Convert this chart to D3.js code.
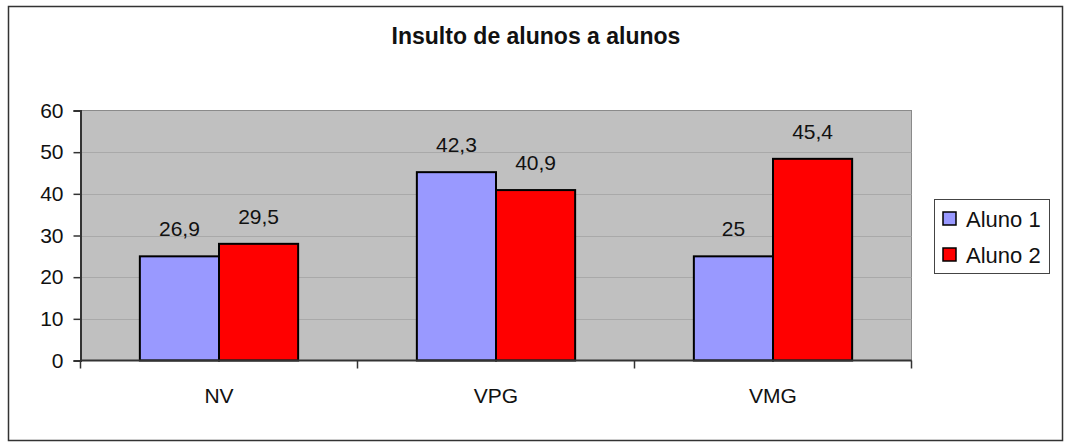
<!DOCTYPE html>
<html>
<head>
<meta charset="utf-8">
<script src="https://cdn.jsdelivr.net/npm/d3@7"></script>
<style>
  body { margin: 0; background: #fff; }
  text { font-family: "Liberation Sans", Arial, sans-serif; fill: #111; }
</style>
</head>
<body>
<div id="visualize"></div>
<script>
// Chart data
var categories = ["NV", "VPG", "VMG"];
var seriesNames = ["Aluno 1", "Aluno 2"];
var aluno1 = [25, 45.2, 25];
var aluno2 = [28, 40.9, 48.4];
var aluno1Labels = ["26,9", "42,3", "25"];
var aluno2Labels = ["29,5", "40,9", "45,4"];
var yTicks = [0, 10, 20, 30, 40, 50, 60];
var colors = ["#9999ff", "#ff0000"];
var title = "Insulto de alunos a alunos";

// Draw grouped bar chart
function drawBarChart() {

  var width = 1079;
  var height = 443;

  var svg = d3.select("#visualize").append("svg")
      .attr("width", width)
      .attr("height", height);

  // outer frame
  svg.append("rect")
      .attr("x", 8.5)
      .attr("y", 6.5)
      .attr("width", 1054)
      .attr("height", 434)
      .style("fill", "#fff")
      .style("stroke", "#333")
      .style("stroke-width", 1.5);

  svg.append("text")
      .attr("x", 536)
      .attr("y", 44)
      .style("text-anchor", "middle")
      .style("font-weight", "bold")
      .style("font-size", "23px")
      .text(title);

  var left = 80.5, right = 911.5, top = 110.5, bottom = 360.5;

  var x = d3.scaleBand()
      .domain(categories)
      .range([left, right]);

  var y = d3.scaleLinear()
      .domain([0, 60])
      .range([bottom, top]);

  // plot area
  svg.append("rect")
      .attr("x", left)
      .attr("y", top)
      .attr("width", right - left)
      .attr("height", bottom - top)
      .style("fill", "#c0c0c0")
      .style("stroke", "#8a8a8a")
      .style("stroke-width", 1);

  svg.append("g")
      .selectAll("line")
      .data(yTicks.slice(1, -1))
    .enter().append("line")
      .attr("x1", left)
      .attr("x2", right)
      .attr("y1", function(d) { return Math.round(y(d)) + 0.5; })
      .attr("y2", function(d) { return Math.round(y(d)) + 0.5; })
      .style("stroke", "#a9a9a9")
      .style("stroke-width", 1);

  // bars
  var x1 = d3.scaleBand()
      .domain(seriesNames)
      .range([0, x.bandwidth()])
      .paddingOuter(0.75);

  var rows = categories.map(function(c, i) {
    return [
      { cat: c, name: seriesNames[0], value: aluno1[i], label: aluno1Labels[i] },
      { cat: c, name: seriesNames[1], value: aluno2[i], label: aluno2Labels[i] }
    ];
  });

  var groups = svg.selectAll(".group")
      .data(rows)
    .enter().append("g")
      .attr("class", "group")
      .attr("transform", function(d) { return "translate(" + x(d[0].cat) + ",0)"; });

  groups.selectAll("rect")
      .data(function(d) { return d; })
    .enter().append("rect")
      .attr("x", function(d) { return x1(d.name); })
      .attr("y", function(d) { return y(d.value); })
      .attr("width", x1.bandwidth())
      .attr("height", function(d) { return y(0) - y(d.value); })
      .style("fill", function(d, i) { return colors[i]; })
      .style("stroke", "#000")
      .style("stroke-width", 2);

  groups.selectAll(".lbl")
      .data(function(d) { return d; })
    .enter().append("text")
      .attr("class", "lbl")
      .attr("x", function(d) { return x1(d.name) + x1.bandwidth() / 2; })
      .attr("y", function(d) { return y(d.value) - 20; })
      .style("text-anchor", "middle")
      .style("font-size", "21px")
      .text(function(d) { return d.label; });

  // axes
  var yAxis = d3.axisLeft(y)
      .tickValues(yTicks)
      .tickSize(7)
      .tickPadding(10);

  var yg = svg.append("g")
      .attr("transform", "translate(" + left + ",0)")
      .call(yAxis);
  yg.select(".domain").style("stroke", "#333").style("stroke-width", 2);
  yg.selectAll(".tick line").style("stroke", "#333").style("stroke-width", 1.5);
  yg.selectAll(".tick text")
      .style("font-size", "21px")
      .style("font-family", "'Liberation Sans', Arial, sans-serif")
      .style("fill", "#111");

  var boundaries = categories.map(function(c) { return x(c); }).concat([right]);
  svg.append("line")
      .attr("x1", left)
      .attr("x2", right)
      .attr("y1", bottom)
      .attr("y2", bottom)
      .style("stroke", "#333")
      .style("stroke-width", 2);

  svg.selectAll(".xtick")
      .data(boundaries)
    .enter().append("line")
      .attr("class", "xtick")
      .attr("x1", function(d) { return d; })
      .attr("x2", function(d) { return d; })
      .attr("y1", bottom)
      .attr("y2", bottom + 8)
      .style("stroke", "#333")
      .style("stroke-width", 1.5);

  svg.selectAll(".xlabel")
      .data(categories)
    .enter().append("text")
      .attr("class", "xlabel")
      .attr("x", function(d) { return x(d) + x.bandwidth() / 2; })
      .attr("y", 403)
      .style("text-anchor", "middle")
      .style("font-size", "21px")
      .text(function(d) { return d; });

  // legend
  svg.append("rect")
      .attr("x", 934.5)
      .attr("y", 199.5)
      .attr("width", 115)
      .attr("height", 74)
      .style("fill", "#fff")
      .style("stroke", "#444")
      .style("stroke-width", 1);

  var legend = svg.selectAll(".legend")
      .data(seriesNames)
    .enter().append("g")
      .attr("class", "legend")
      .attr("transform", function(d, i) { return "translate(943," + (212 + i * 36) + ")"; });

  legend.append("rect")
      .attr("width", 13)
      .attr("height", 13)
      .style("fill", function(d, i) { return colors[i]; })
      .style("stroke", "#000")
      .style("stroke-width", 1.5);

  legend.append("text")
      .attr("x", 23)
      .attr("y", 7)
      .attr("dy", ".35em")
      .style("font-size", "22px")
      .text(function(d) { return d; });
}

drawBarChart();
</script>
</body>
</html>
